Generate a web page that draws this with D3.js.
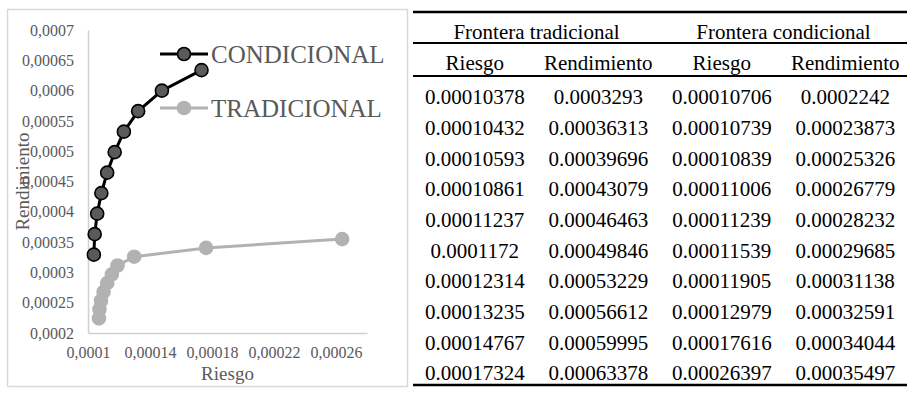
<!DOCTYPE html>
<html>
<head>
<meta charset="utf-8">
<script src="https://cdn.jsdelivr.net/npm/d3@7"></script>
<style>
  body { margin: 0; background: #fff; }
</style>
</head>
<body>
<div id="fig"></div>
<script>
/* Table columns: Frontera tradicional */
var tradRiesgo = [0.00010378, 0.00010432, 0.00010593, 0.00010861, 0.00011237, 0.0001172, 0.00012314, 0.00013235, 0.00014767, 0.00017324];
var tradRend = [0.0003293, 0.00036313, 0.00039696, 0.00043079, 0.00046463, 0.00049846, 0.00053229, 0.00056612, 0.00059995, 0.00063378];
/* Table columns: Frontera condicional */
var condRiesgo = [0.00010706, 0.00010739, 0.00010839, 0.00011006, 0.00011239, 0.00011539, 0.00011905, 0.00012979, 0.00017616, 0.00026397];
var condRend = [0.0002242, 0.00023873, 0.00025326, 0.00026779, 0.00028232, 0.00029685, 0.00031138, 0.00032591, 0.00034044, 0.00035497];
/* the text cells, kept as printed */
var tradRiesgoTxt = ["0.00010378", "0.00010432", "0.00010593", "0.00010861", "0.00011237", "0.0001172", "0.00012314", "0.00013235", "0.00014767", "0.00017324"];
var tradRendTxt = ["0.0003293", "0.00036313", "0.00039696", "0.00043079", "0.00046463", "0.00049846", "0.00053229", "0.00056612", "0.00059995", "0.00063378"];
var condRiesgoTxt = ["0.00010706", "0.00010739", "0.00010839", "0.00011006", "0.00011239", "0.00011539", "0.00011905", "0.00012979", "0.00017616", "0.00026397"];
var condRendTxt = ["0.0002242", "0.00023873", "0.00025326", "0.00026779", "0.00028232", "0.00029685", "0.00031138", "0.00032591", "0.00034044", "0.00035497"];

var groupHeads = ["Frontera tradicional", "Frontera condicional"];
var subHeads = ["Riesgo", "Rendimiento", "Riesgo", "Rendimiento"];
var seriesNames = ["CONDICIONAL", "TRADICIONAL"];
var xTicks = [0.0001, 0.00014, 0.00018, 0.00022, 0.00026];
var yTicks = [0.0002, 0.00025, 0.0003, 0.00035, 0.0004, 0.00045, 0.0005, 0.00055, 0.0006, 0.00065, 0.0007];

var SERIF = "'Liberation Serif', 'Times New Roman', Times, serif";

var Fig = {
  svg: null,

  init: function () {
    this.svg = d3.select("#fig").append("svg")
      .attr("width", 916)
      .attr("height", 393);
    this.drawChart();
    this.drawTable();
  },

  /* comma decimal, like the spreadsheet */
  fmt: function (v) {
    return (+v.toPrecision(6)).toString().replace(".", ",");
  },

  drawChart: function () {
    var svg = this.svg;
    var c = { left: 88, right: 367, top: 30, bottom: 333 };

    /* chart frame */
    svg.append("rect")
      .attr("x", 7.5).attr("y", 9.5)
      .attr("width", 400).attr("height", 377)
      .style("fill", "#fff")
      .style("stroke", "#d9d9d9")
      .style("stroke-width", 1.5);

    var x = d3.scaleLinear().domain([0.0001, 0.00028]).range([c.left, c.right]);
    var y = d3.scaleLinear().domain([0.0002, 0.0007]).range([c.bottom, c.top]);

    /* y axis */
    var ya = svg.append("g")
      .attr("class", "y axis")
      .attr("transform", "translate(" + c.left + ",0)")
      .call(d3.axisLeft(y).tickValues(yTicks).tickSize(0).tickPadding(14).tickFormat(Fig.fmt));
    /* x axis */
    var xa = svg.append("g")
      .attr("class", "x axis")
      .attr("transform", "translate(0," + c.bottom + ")")
      .call(d3.axisBottom(x).tickValues(xTicks).tickSize(0).tickPadding(14).tickFormat(Fig.fmt));

    [ya, xa].forEach(function (a) {
      a.attr("font-family", null).attr("font-size", null);
      a.select(".domain").style("stroke", "#d0d0d0").style("stroke-width", 1.5);
      a.selectAll("text")
        .style("font-family", SERIF)
        .style("font-size", "16px")
        .style("fill", "#595959");
    });

    /* axis titles */
    svg.append("text")
      .attr("x", (c.left + c.right) / 2)
      .attr("y", 373)
      .attr("dy", "0.35em")
      .style("font-family", SERIF)
      .style("font-size", "19px")
      .style("fill", "#595959")
      .style("text-anchor", "middle")
      .text("Riesgo");
    svg.append("text")
      .attr("transform", "translate(22," + ((c.top + c.bottom) / 2) + ") rotate(-90)")
      .attr("dy", "0.35em")
      .style("font-family", SERIF)
      .style("font-size", "19px")
      .style("fill", "#595959")
      .style("text-anchor", "middle")
      .text("Rendimiento");

    /* the two series; names as in the original chart */
    var series = [
      { name: seriesNames[0], xs: tradRiesgo, ys: tradRend, line: "#000", fill: "#5a5a5a", stroke: "#000", r: 6.5 },
      { name: seriesNames[1], xs: condRiesgo, ys: condRend, line: "#b2b2b2", fill: "#b2b2b2", stroke: "#b2b2b2", r: 6.5 }
    ];

    series.forEach(function (s) {
      var idx = d3.range(s.xs.length);
      var line = d3.line()
        .x(function (i) { return x(s.xs[i]); })
        .y(function (i) { return y(s.ys[i]); });
      svg.append("path")
        .datum(idx)
        .attr("d", line)
        .style("fill", "none")
        .style("stroke", s.line)
        .style("stroke-width", 3);
      svg.append("g").selectAll("circle")
        .data(idx)
        .enter()
        .append("circle")
        .attr("cx", function (i) { return x(s.xs[i]); })
        .attr("cy", function (i) { return y(s.ys[i]); })
        .attr("r", s.r)
        .style("fill", s.fill)
        .style("stroke", s.stroke)
        .style("stroke-width", 1.6);
    });

    /* legend */
    var lg = svg.selectAll(".legend-element")
      .data(series)
      .enter()
      .append("g")
      .attr("class", "legend-element")
      .attr("transform", function (s, i) { return "translate(160," + (54 + i * 54) + ")"; });
    lg.append("line")
      .attr("x1", 0).attr("x2", 48)
      .style("stroke", function (s) { return s.line; })
      .style("stroke-width", 3);
    lg.append("circle")
      .attr("cx", 24)
      .attr("r", function (s) { return s.r; })
      .style("fill", function (s) { return s.fill; })
      .style("stroke", function (s) { return s.stroke; })
      .style("stroke-width", 1.6);
    lg.append("text")
      .attr("x", 51)
      .attr("dy", "0.35em")
      .style("font-family", SERIF)
      .style("font-size", "25px")
      .style("fill", "#595959")
      .text(function (s) { return s.name; });
  },

  drawTable: function () {
    var svg = this.svg;
    var t = { left: 413, right: 907 };
    var colW = (t.right - t.left) / 4;
    var cols = d3.range(4).map(function (i) { return t.left + colW * (i + 0.5); });
    var rowY = d3.scaleLinear().domain([0, 9]).range([97, 373]);

    var g = svg.append("g").attr("id", "table");

    /* rules */
    [[12, 2.5], [43, 2], [76, 2], [385, 2.5]].forEach(function (r) {
      g.append("line")
        .attr("x1", t.left).attr("x2", t.right)
        .attr("y1", r[0]).attr("y2", r[0])
        .style("stroke", "#000")
        .style("stroke-width", r[1]);
    });

    g.selectAll(".group-head")
      .data(groupHeads)
      .enter()
      .append("text")
      .attr("class", "group-head")
      .attr("x", function (d, i) { return t.left + colW * (2 * i + 1); })
      .attr("y", 32)
      .attr("dy", "0.35em");

    g.selectAll(".sub-head")
      .data(subHeads)
      .enter()
      .append("text")
      .attr("class", "sub-head")
      .attr("x", function (d, i) { return cols[i]; })
      .attr("y", 63)
      .attr("dy", "0.35em");

    var columns = [tradRiesgoTxt, tradRendTxt, condRiesgoTxt, condRendTxt];
    columns.forEach(function (col, ci) {
      g.selectAll(".cell-" + ci)
        .data(col)
        .enter()
        .append("text")
        .attr("class", "cell-" + ci)
        .attr("x", cols[ci])
        .attr("y", function (d, i) { return rowY(i); })
        .attr("dy", "0.35em");
    });

    g.selectAll("text")
      .style("font-family", SERIF)
      .style("font-size", "21px")
      .style("fill", "#000")
      .style("text-anchor", "middle")
      .text(function (d) { return d; });
  }
};

Fig.init();
</script>
</body>
</html>
